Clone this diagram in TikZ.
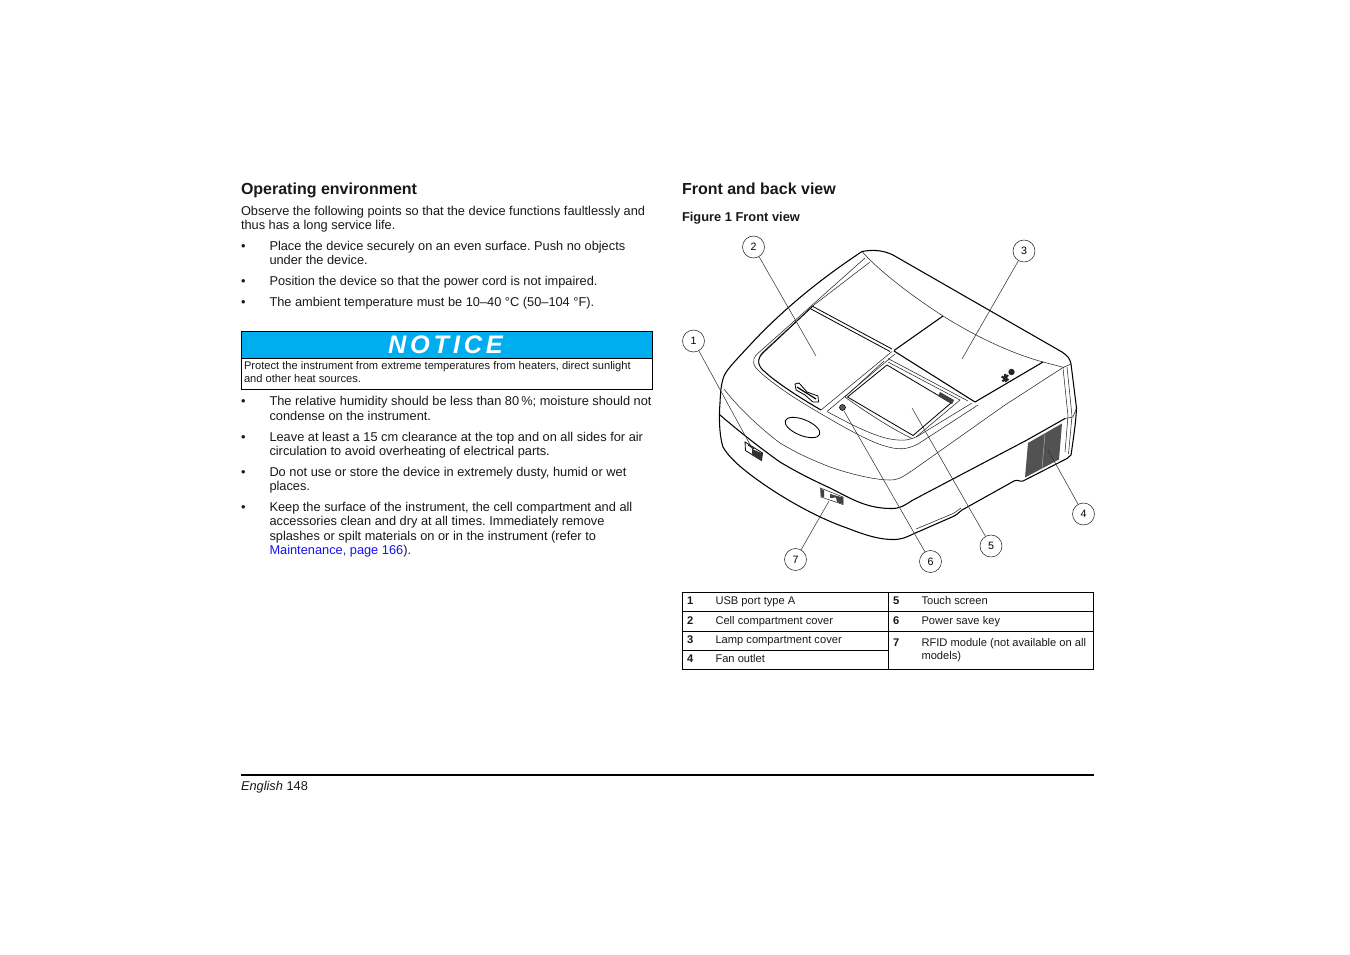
\documentclass[tikz,border=0pt]{standalone}
\usepackage{fontspec}
\setmainfont{Liberation Sans}
\newfontfamily\noticefont[LetterSpace=15]{Liberation Sans}
\definecolor{noticeblue}{RGB}{0,174,239}
\definecolor{linkblue}{RGB}{20,20,240}
\begin{document}
\frenchspacing
\begin{tikzpicture}[x=0.75pt,y=-0.75pt,
  txt/.style={anchor=base west,inner sep=0pt,outer sep=0pt,font=\fontsize{9.6}{11}\selectfont\frenchspacing,text=black!90},
  heading/.style={txt,font=\fontsize{12}{14}\selectfont\bfseries},
  figcap/.style={txt,font=\fontsize{9.65}{11}\selectfont\bfseries},
  smalltxt/.style={txt,font=\fontsize{8.35}{10}\selectfont},
  smallbold/.style={smalltxt,font=\fontsize{8.35}{10}\selectfont\bfseries},
  callout/.style={circle,draw=black!85,line width=0.4pt,minimum size=16.5pt,inner sep=0pt,font=\fontsize{8}{9}\selectfont,fill=none},
  leader/.style={draw=black!80,line width=0.4pt},
  thin line/.style={draw=black!85,line width=0.4pt},
  mid line/.style={draw=black,line width=0.6pt},
  heavy line/.style={draw=black,line width=0.8pt,line join=round},
  rule line/.style={draw=black,line width=0.6pt}
]
\useasboundingbox (0,0) rectangle (1350,954);
\fill[white] (0,0) rectangle (1350,954);

% left column
\node[heading] (hleft) at (241,194) {Operating environment};
\node[txt] (l1) at (241,215) {Observe the following points so that the device functions faultlessly and};
\node[txt] (l2) at (241,229) {thus has a long service life.};
\node[txt] (b1) at (241,250) {•};
\node[txt] (l3) at (269.5,250) {Place the device securely on an even surface. Push no objects};
\node[txt] (l4) at (269.5,264) {under the device.};
\node[txt] (b2) at (241,285) {•};
\node[txt] (l5) at (269.5,285) {Position the device so that the power cord is not impaired.};
\node[txt] (b3) at (241,306) {•};
\node[txt] (l6) at (269.5,306) {The ambient temperature must be 10–40 °C (50–104 °F).};

% notice
\fill[noticeblue] (241,331.5) rectangle (653,358);
\draw[rule line] (241,331.5) rectangle (652.5,389.5);
\draw[rule line] (241,358) -- (652.5,358);
\node[anchor=base,inner sep=0pt,text=white,font=\noticefont\fontsize{19}{20}\selectfont\bfseries\itshape] (notice) at (445.5,353) {NOTICE};
\node[smalltxt] (n1) at (244,369) {Protect the instrument from extreme temperatures from heaters, direct sunlight};
\node[smalltxt] (n2) at (244,382) {and other heat sources.};

\node[txt] (b4) at (241,405) {•};
\node[txt] (l7) at (269.5,405) {The relative humidity should be less than 80\,\%; moisture should not};
\node[txt] (l8) at (269.5,420) {condense on the instrument.};
\node[txt] (b5) at (241,441) {•};
\node[txt] (l9) at (269.5,441) {Leave at least a 15 cm clearance at the top and on all sides for air};
\node[txt] (l10) at (269.5,455) {circulation to avoid overheating of electrical parts.};
\node[txt] (b6) at (241,476) {•};
\node[txt] (l11) at (269.5,476) {Do not use or store the device in extremely dusty, humid or wet};
\node[txt] (l12) at (269.5,490) {places.};
\node[txt] (b7) at (241,511) {•};
\node[txt] (l13) at (269.5,511) {Keep the surface of the instrument, the cell compartment and all};
\node[txt] (l14) at (269.5,525) {accessories clean and dry at all times. Immediately remove};
\node[txt] (l15) at (269.5,540) {splashes or spilt materials on or in the instrument (refer to};
\node[txt] (l16) at (269.5,554) {{\color{linkblue}Maintenance, page 166}).};

% right column
\node[heading] (hright) at (682,194) {Front and back view};
\node[figcap] (cap) at (682,221) {Figure 1 Front view};

% --- instrument ---
% outer top and right
\draw[heavy line] (720,403) .. controls (720.5,392) and (721,384) .. (724,376) .. controls (727,369) and (738,358) .. (750,345) .. controls (785,307) and (825,276) .. (862,251.5);
\draw[heavy line] (862,251.5) .. controls (872,249.5) and (883,250) .. (893,255) -- (1062,352) .. controls (1068,356) and (1070,359) .. (1071,364) -- (1076.5,408) .. controls (1076,420) and (1074,435) .. (1071,455);
% bottom contour
\draw[heavy line] (720,403) .. controls (719,415) and (719,435) .. (723,447) .. controls (728,456) and (738,465) .. (747,472) .. controls (775,494) and (815,517) .. (847,528) .. controls (865,535) and (880,540) .. (895,539.5) .. controls (905,539) and (910,535) .. (920,531) -- (952,517) .. controls (957,515) and (958,513) .. (962,510) -- (1014,481) .. controls (1018,479) and (1019,482) .. (1023,481) -- (1067,458.5) -- (1071,455);
\draw[thin line] (916,529) -- (952,514) .. controls (956,512) and (958,510) .. (961,508);
% seam
\draw[heavy line] (720,415) .. controls (735,428) and (760,448) .. (780,462) .. controls (800,474) and (815,481) .. (830,488) .. controls (850,498) and (865,508) .. (890,508.5) .. controls (900,509) and (905,505) .. (913,500) -- (1027,440) -- (1065,418.5);
\draw[thin line] (1065,418.5) -- (1073,417) -- (1076.5,408);
% front inner curve
\draw[thin line] (724,389) .. controls (740,410) and (765,432) .. (780,443) .. controls (800,455) and (815,461) .. (830,467) .. controls (850,474) and (875,480) .. (890,480) .. controls (900,480) and (905,475) .. (913,470) -- (1005,405) -- (1063,367.5) -- (1071,364);
% right pillar lines
\draw[thin line] (1063,368) -- (1068,416) -- (1065,452);
\draw[thin line] (1067,367) -- (1072,416) -- (1068.5,454);
% lamp cover
\draw[thin line] (862,251.5) .. controls (880,272) and (915,298) .. (943,316) .. controls (975,336) and (1010,353) .. (1043,362) -- (1064,367.5);
\draw[heavy line] (943,316) -- (894,350.5);
\draw[heavy line] (894,351) -- (975,402) -- (1043,362);
% cell lid lines
\draw[thin line] (865,258) -- (760,351.5) .. controls (754,356) and (751,361) .. (756,368) .. controls (765,378) and (790,396) .. (818,412) .. controls (845,428) and (870,442) .. (885,446) .. controls (898,450) and (906,450) .. (918,444) -- (978,405);
\draw[thin line] (870,262) -- (812,306.5) -- (764,351) .. controls (758,356) and (757,362) .. (761,368);
\draw[mid line] (812,307) -- (763,353) .. controls (758,358) and (757,363) .. (761,368);
\draw[heavy line] (761,368) .. controls (770,378) and (795,395) .. (821,410);
\draw[mid line] (812,306) -- (892,349);
\draw[mid line] (811,309) -- (890,351.5);
% keypad surround
\draw[thin line] (892,351.5) -- (821,410);
\draw[thin line] (895,354) -- (827,411.5);
\draw[thin line] (827,411.5) .. controls (850,424) and (875,437) .. (893,439.5) .. controls (905,441) and (910,440) .. (918,436) -- (972,403);
% bezel
\draw[thin line] (888,358.5) -- (968,401);
\draw[thin line] (884,361) -- (845,397) .. controls (860,408) and (890,428) .. (912,438.5);
\draw[mid line] (887,365) -- (847.5,397) -- (913,435.5) -- (951,403) -- cycle;
\draw[thin line] (888,362) -- (960,400) -- (916,437);
% badge
\fill[black!75] (940,392) -- (954,400) -- (952,404) -- (938,396) -- cycle;
% power key
\fill[black!65] (842.5,407.5) circle[radius=3];
\draw[black,line width=0.4pt] (842.5,407.5) circle[radius=3];
% handle
\draw[mid line] (795,384) -- (799,383) -- (807,392) -- (818,396) -- (818.5,402) -- (813,402) -- (805,395) -- (796,390) -- cycle;
\draw[line width=0.9pt,black] (797,387) -- (804,391.5) -- (816,399);
% oval
\draw[line width=0.65pt,draw=black] (802.5,427.5) ellipse[x radius=18.5,y radius=8,rotate=-22];
% lamp symbols
\fill[black!85] (1011.5,372) circle[radius=3.2];
\draw[black!85,line width=1.6pt] (1001.5,376.5) -- (1008.5,380) (1002.5,381.5) -- (1008,375) (1005,374) -- (1006,382);
% USB
\draw[mid line,fill=white] (745,442) -- (762.5,453) -- (761.5,460.5) -- (745.5,450.5) -- cycle;
\fill[black!80] (752,449) -- (762.5,453.5) -- (761.5,460.5) -- (752,455) -- cycle;
\draw[mid line] (748,445) -- (754,449);
% RFID
\draw[thin line,fill=white] (820.5,488) -- (843,497) -- (843,504.5) -- (821,497) -- cycle;
\fill[black!75] (830,494) -- (843,497.5) -- (843,504) -- (837,502) -- (836,497.5) -- (830,498) -- cycle;
\fill[black!75] (821,489) -- (824,490) -- (824,497) -- (821,496.5) -- cycle;
% grille
\fill[black!68] (1028,443) -- (1062,423.5) -- (1059,459.5) -- (1025,477.5) -- cycle;
\draw[black!35,line width=0.4pt] (1045,433.5) -- (1042,468.5);

% callouts
\node[callout] (c1) at (693.5,341) {1};
\node[callout] (c2) at (753.5,247) {2};
\node[callout] (c3) at (1024,251) {3};
\node[callout] (c4) at (1083.5,514) {4};
\node[callout] (c5) at (991,546) {5};
\node[callout] (c6) at (930.5,561.5) {6};
\node[callout] (c7) at (795.5,559.5) {7};
\coordinate (p1) at (753,450);
\coordinate (p2) at (816,356);
\coordinate (p3) at (962,359);
\coordinate (p4) at (1048,450);
\coordinate (p5) at (912,408);
\coordinate (p6) at (844,411);
\coordinate (p7) at (829,501);
\draw[leader] (c1) -- (p1);
\draw[leader] (c2) -- (p2);
\draw[leader] (c3) -- (p3);
\draw[leader] (c4) -- (p4);
\draw[leader] (c5) -- (p5);
\draw[leader] (c6) -- (p6);
\draw[leader] (c7) -- (p7);

% table
\draw[rule line] (682.5,592.5) rectangle (1093.5,669.5);
\draw[rule line] (888.5,592.5) -- (888.5,669.5);
\draw[rule line] (682.5,611.5) -- (1093.5,611.5);
\draw[rule line] (682.5,631) -- (1093.5,631);
\draw[rule line] (682.5,650.5) -- (888.5,650.5);
\node[smallbold] (k1) at (687,604) {1};
\node[smalltxt] (v1) at (715.5,604) {USB port type A};
\node[smallbold] (k2) at (687,624) {2};
\node[smalltxt] (v2) at (715.5,624) {Cell compartment cover};
\node[smallbold] (k3) at (687,643) {3};
\node[smalltxt] (v3) at (715.5,643) {Lamp compartment cover};
\node[smallbold] (k4) at (687,662) {4};
\node[smalltxt] (v4) at (715.5,662) {Fan outlet};
\node[smallbold] (k5) at (893,604) {5};
\node[smalltxt] (v5) at (921.5,604) {Touch screen};
\node[smallbold] (k6) at (893,624) {6};
\node[smalltxt] (v6) at (921.5,624) {Power save key};
\node[smallbold] (k7) at (893,646) {7};
\node[smalltxt] (v7) at (921.5,646) {RFID module (not available on all};
\node[smalltxt] (v8) at (921.5,659) {models)};

% footer
\draw[black,line width=1.4pt] (241,775) -- (1094,775);
\node[txt] (foot) at (241,790) {\textit{English} 148};
\end{tikzpicture}
\end{document}
